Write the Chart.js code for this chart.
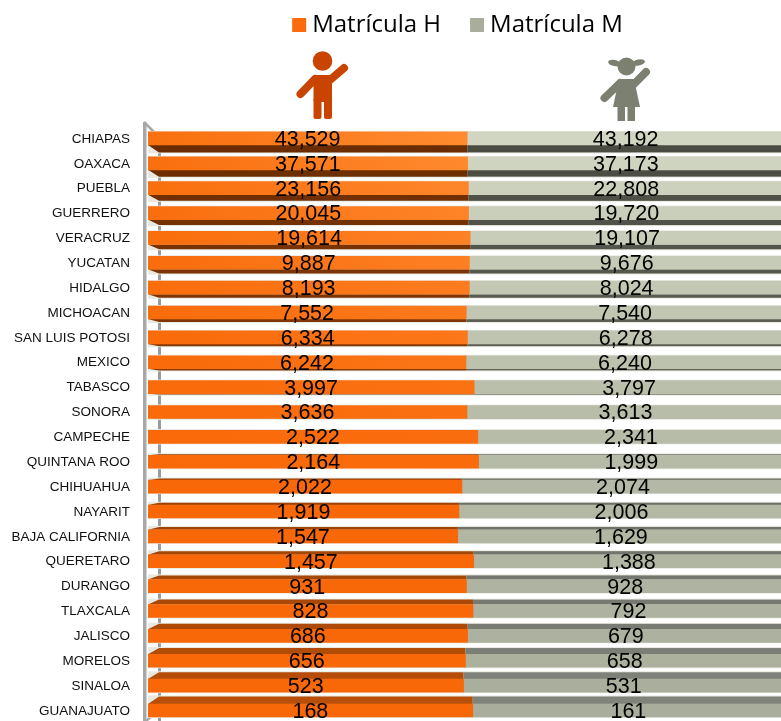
<!DOCTYPE html>
<html>
<head>
<meta charset="utf-8">
<style>
html,body{margin:0;padding:0;background:#fff;overflow:hidden;width:781px;height:721px}
canvas{display:block}
</style>
<script src="https://cdn.jsdelivr.net/npm/chart.js@4"></script>
</head>
<body>
<canvas id="c" width="784" height="741"></canvas>
<script>
const categories = ["CHIAPAS","OAXACA","PUEBLA","GUERRERO","VERACRUZ","YUCATAN","HIDALGO","MICHOACAN","SAN LUIS POTOSI","MEXICO","TABASCO","SONORA","CAMPECHE","QUINTANA ROO","CHIHUAHUA","NAYARIT","BAJA CALIFORNIA","QUERETARO","DURANGO","TLAXCALA","JALISCO","MORELOS","SINALOA","GUANAJUATO"];
const matriculaH = [43529,37571,23156,20045,19614,9887,8193,7552,6334,6242,3997,3636,2522,2164,2022,1919,1547,1457,931,828,686,656,523,168];
const matriculaM = [43192,37173,22808,19720,19107,9676,8024,7540,6278,6240,3797,3613,2341,1999,2074,2006,1629,1388,928,792,679,658,531,161];
const seriesNames = ["Matrícula H","Matrícula M"];

const shareH = matriculaH.map((v,i)=>v/(v+matriculaM[i])*100);
const shareM = matriculaM.map((v,i)=>v/(v+matriculaH[i])*100);

const mix=(a,b,t)=>a.map((v,i)=>Math.round(v+(b[i]-v)*t));
const rgb=c=>`rgb(${c[0]},${c[1]},${c[2]})`;
const last=categories.length-1;
function grayFront(i){
  const mid=11;
  return i<mid?mix([209,214,195],[184,189,170],i/mid):mix([184,189,170],[169,174,156],(i-mid)/(last-mid));
}
function orangeFront(ctx){
  const i=ctx.dataIndex, ca=ctx.chart.chartArea, t=Math.min(1,i/14);
  const left=mix([249,112,15],[249,104,8],t), right=mix([255,139,48],[249,104,8],t);
  if(!ca) return rgb(left);
  const g=ctx.chart.ctx.createLinearGradient(ca.left,0,ca.left+320,0);
  g.addColorStop(0,rgb(left)); g.addColorStop(1,rgb(right));
  return g;
}

const depthPlugin={
  id:'depth',
  afterLayout(chart){
    const l=chart.legend;
    const dx=460.5-(l.left+l.right)/2;
    l.left+=dx; l.right+=dx;
    l.top=13-l.options.labels.padding;
  },
  beforeDatasetsDraw(chart){
    const c=chart.ctx, a=chart.getDatasetMeta(0).data, b=chart.getDatasetMeta(1).data;
    const x0=chart.scales.x.left, back=11;
    c.save();
    c.fillStyle='#a8a8a8';
    c.fillRect(x0-5,122,3.5,600);
    c.fillStyle='#999c9c';
    c.fillRect(x0+10,136,3,590);
    c.strokeStyle='#a8a8a8'; c.lineWidth=2.5;
    c.beginPath(); c.moveTo(x0-4,122); c.lineTo(x0+11,137); c.stroke();
    c.beginPath(); c.moveTo(x0-2,721); c.lineTo(x0+5,715); c.stroke();
    c.restore();
    a.forEach((h,i)=>{
      const m=b[i], d=(11.5-i)*0.65, t=i/last;
      const edge=d>0?h.y+h.height/2:h.y-h.height/2, e2=edge+d;
      // soft pale fringe around each bar
      c.fillStyle='#e8e8e0';
      c.fillRect(x0,h.y-h.height/2+Math.min(d,0)-1,m.x-x0,h.height+Math.abs(d)+2);
      c.fillStyle=rgb(mix([106,44,0],[184,79,8],t));
      c.beginPath(); c.moveTo(x0,edge); c.lineTo(x0+back,e2); c.lineTo(h.x,e2); c.lineTo(h.x,edge); c.closePath(); c.fill();
      c.fillStyle=rgb(mix([74,76,66],[128,131,122],t));
      c.fillRect(h.x,Math.min(edge,e2),m.x-h.x,Math.abs(d));
    });
  },
  afterDatasetsDraw(chart){
    const c=chart.ctx;
    c.save();
    c.font='21.5px "Liberation Sans"'; c.fillStyle='#000'; c.textAlign='center'; c.textBaseline='middle';
    [matriculaH,matriculaM].forEach((vals,k)=>{
      chart.getDatasetMeta(k).data.forEach((el,i)=>{
        c.fillText(vals[i].toLocaleString('en-US'),(el.x+el.base)/2,el.y+1.5);
      });
    });
    c.restore();
    drawBoy(c); drawGirl(c);
  }
};
function seg(c,x1,y1,x2,y2,w){c.lineWidth=w;c.lineCap='round';c.beginPath();c.moveTo(x1,y1);c.lineTo(x2,y2);c.stroke();}
function drawBoy(c){
  c.save(); c.fillStyle=c.strokeStyle='#c84400';
  c.beginPath(); c.arc(322.5,61,9.8,0,Math.PI*2); c.fill();
  seg(c,330,80,344,68,8); seg(c,315,79,300.5,94,8);
  c.beginPath(); c.roundRect(313.5,75,18.5,27,2); c.fill();
  c.beginPath(); c.roundRect(313.5,98,8,21,2); c.fill();
  c.beginPath(); c.roundRect(324,98,8,21,2); c.fill();
  c.restore();
}
function drawGirl(c){
  c.save(); c.fillStyle=c.strokeStyle='#7c8070';
  c.beginPath(); c.arc(626.5,66.5,9,0,Math.PI*2); c.fill();
  c.beginPath(); c.ellipse(614.5,63,6.5,3,0.2,0,Math.PI*2); c.fill();
  c.beginPath(); c.ellipse(638.5,62.5,6.5,3,-0.2,0,Math.PI*2); c.fill();
  seg(c,633,85,646,72,8); seg(c,620,83,604.5,98,8);
  c.beginPath(); c.moveTo(619,79); c.lineTo(634,79); c.lineTo(640,107); c.lineTo(613,107); c.closePath(); c.fill();
  c.fillRect(617.5,105,7.5,16); c.fillRect(627.5,105,7.5,16);
  c.restore();
}

new Chart(document.getElementById('c'),{
  type:'bar',
  plugins:[depthPlugin],
  data:{
    labels:categories,
    datasets:[
      {label:seriesNames[0],data:shareH,backgroundColor:orangeFront,barThickness:13},
      {label:seriesNames[1],data:shareM,backgroundColor:ctx=>rgb(grayFront(ctx.dataIndex)),barThickness:13}
    ]
  },
  options:{
    indexAxis:'y',responsive:false,animation:false,
    layout:{padding:{top:57,left:0,right:0,bottom:0}},
    plugins:{
      tooltip:{enabled:false},
      legend:{
        position:'top',
        labels:{
          font:{family:'"Open Sans"',size:24},color:'#111',padding:35,boxWidth:2,boxHeight:2,
          generateLabels:()=>[
            {text:seriesNames[0],fillStyle:'#f96b0c',strokeStyle:'#f96b0c',lineWidth:12,datasetIndex:0},
            {text:seriesNames[1],fillStyle:'#a9ae9c',strokeStyle:'#a9ae9c',lineWidth:12,datasetIndex:1}
          ]
        }
      }
    },
    scales:{
      x:{display:false,stacked:true,min:0,max:100},
      y:{stacked:true,afterFit(s){s.width=148;},
        grid:{display:false},border:{display:false},
        ticks:{font:{family:'"Liberation Sans"',size:13.5},color:'#111',padding:10,labelOffset:0.5,autoSkip:false}}
    }
  }
});
</script>
</body>
</html>
